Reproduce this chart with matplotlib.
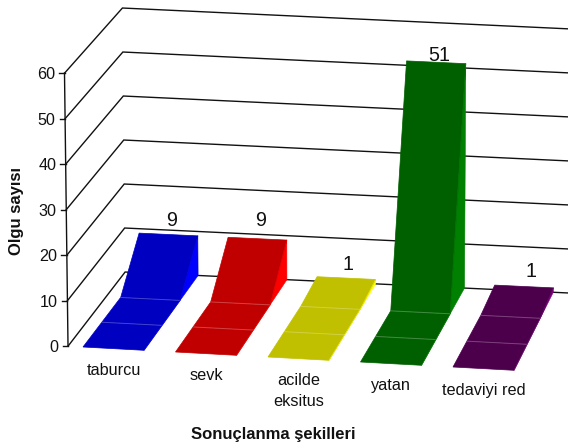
import matplotlib
matplotlib.use("Agg")
import matplotlib.pyplot as plt
import numpy as np

plt.rcParams['font.family'] = ['Liberation Sans', 'DejaVu Sans']

categories = ["taburcu", "sevk", "acilde\neksitus", "yatan", "tedaviyi red"]
values = [9, 9, 1, 51, 1]
depth_share = [0, 0, 0, 1]          # area profile along the depth rows
y_ticks = [0, 10, 20, 30, 40, 50, 60]
x_title = "Sonuçlanma şekilleri"
y_title = "Olgu sayısı"
face_colors = ["#0000C0", "#C00000", "#C0C000", "#006000", "#4C004C"]
side_colors = ["#0000FF", "#FF0000", "#FFFF00", "#008000", "#800080"]
label_nudge = [(3, -16), (3, -20), (2, -16), (3, -9), (7, -17)]

BAR_W = 0.66
WALL_U = -0.162
RIGHT_U = 5.2


def proj(u, d, v):
    """Project category position u, depth d (0 front, 1 back), value v to the page."""
    xf = 83 + 92.5 * u
    xb = 139.5 + 88.8 * u
    yf = 347 + 5.0 * u
    yb = 272.7 + 4.2 * u
    lean = 0.0183 * (u - 2.3) * v * (1.3 - 0.3 * d)
    x = (1 - d) * xf + d * xb + lean
    y = (1 - d) * yf + d * yb - v * ((1 - d) * 4.55 + d * 4.4)
    return x, y


fig = plt.figure(figsize=(5.68, 4.44), dpi=100)
ax = fig.add_axes([0, 0, 1, 1])
ax.set_xlim(0, 568)
ax.set_ylim(444, 0)
ax.axis("off")

# Walls: gridlines on side and back
for t in y_ticks:
    p0 = proj(WALL_U, 0, t)
    p1 = proj(WALL_U, 1, t)
    p2 = proj(RIGHT_U, 1, t)
    ax.plot([p0[0], p1[0], p2[0]], [p0[1], p1[1], p2[1]], color="#111111", lw=1.0,
            solid_joinstyle="miter", zorder=1)
    ax.plot([p0[0] - 5.5, p0[0]], [p0[1], p0[1]], color="#111111", lw=1.0, zorder=1)
    ax.text(p0[0] - 9.5, p0[1], str(t), ha="right", va="center_baseline", fontsize=11.6,
            color="#111111")
a = proj(WALL_U, 0, y_ticks[0])
b = proj(WALL_U, 0, y_ticks[-1])
ax.plot([a[0], b[0]], [a[1], b[1]], color="#111111", lw=1.0, zorder=1)

# Area-style bars along the depth rows
depths = np.linspace(0, 1, len(depth_share))
for i, (val, fc, sc, cat) in enumerate(zip(values, face_colors, side_colors, categories)):
    ul, ur = i, i + BAR_W
    # right side wall of the final rising section
    s = [proj(ur, depths[-2], 0), proj(ur, 1, 0), proj(ur, 1, val)]
    ax.fill(*zip(*s), facecolor=sc, edgecolor=sc, lw=0.4, zorder=3)
    # sloping surface, one patch per depth row
    for k in range(len(depths) - 1):
        v0, v1 = val * depth_share[k], val * depth_share[k + 1]
        q = [proj(ul, depths[k], v0), proj(ur, depths[k], v0),
             proj(ur, depths[k + 1], v1), proj(ul, depths[k + 1], v1)]
        ax.fill(*zip(*q), facecolor=fc, edgecolor=fc, lw=0.5, zorder=4)
    # light row seams
    for k in range(1, len(depths) - 1):
        l, r = proj(ul, depths[k], 0), proj(ur, depths[k], 0)
        ax.plot([l[0], r[0]], [l[1], r[1]], color="white", alpha=0.25, lw=0.7, zorder=5)
    # light rim on the right edge
    rim = [proj(ur, d, val * sh) for d, sh in zip(depths, depth_share)]
    ax.plot(*zip(*rim), color=sc, alpha=0.6, lw=0.6, zorder=5)
    # value label
    tx, ty = proj(i + BAR_W / 2, 1, val)
    nx, ny = label_nudge[i]
    ax.text(tx + nx, ty + ny, str(val), ha="center", va="center_baseline", fontsize=14.2,
            color="#111111", zorder=6)
    # category label, one baseline per line
    cx, cy = proj(i + BAR_W / 2, 0, 0)
    for j, line in enumerate(cat.split("\n")):
        ax.text(cx, cy + 26.5 + 21 * j, line, ha="center", va="baseline", fontsize=11.7,
                color="#111111")

ax.text(273, 439, x_title, ha="center", va="baseline", fontsize=12, fontweight="bold",
        color="#111111")
ax.text(17, 211, y_title, ha="center", va="center", rotation=90, fontsize=12,
        fontweight="bold", color="#111111")

fig.savefig("out.png", dpi=100)
